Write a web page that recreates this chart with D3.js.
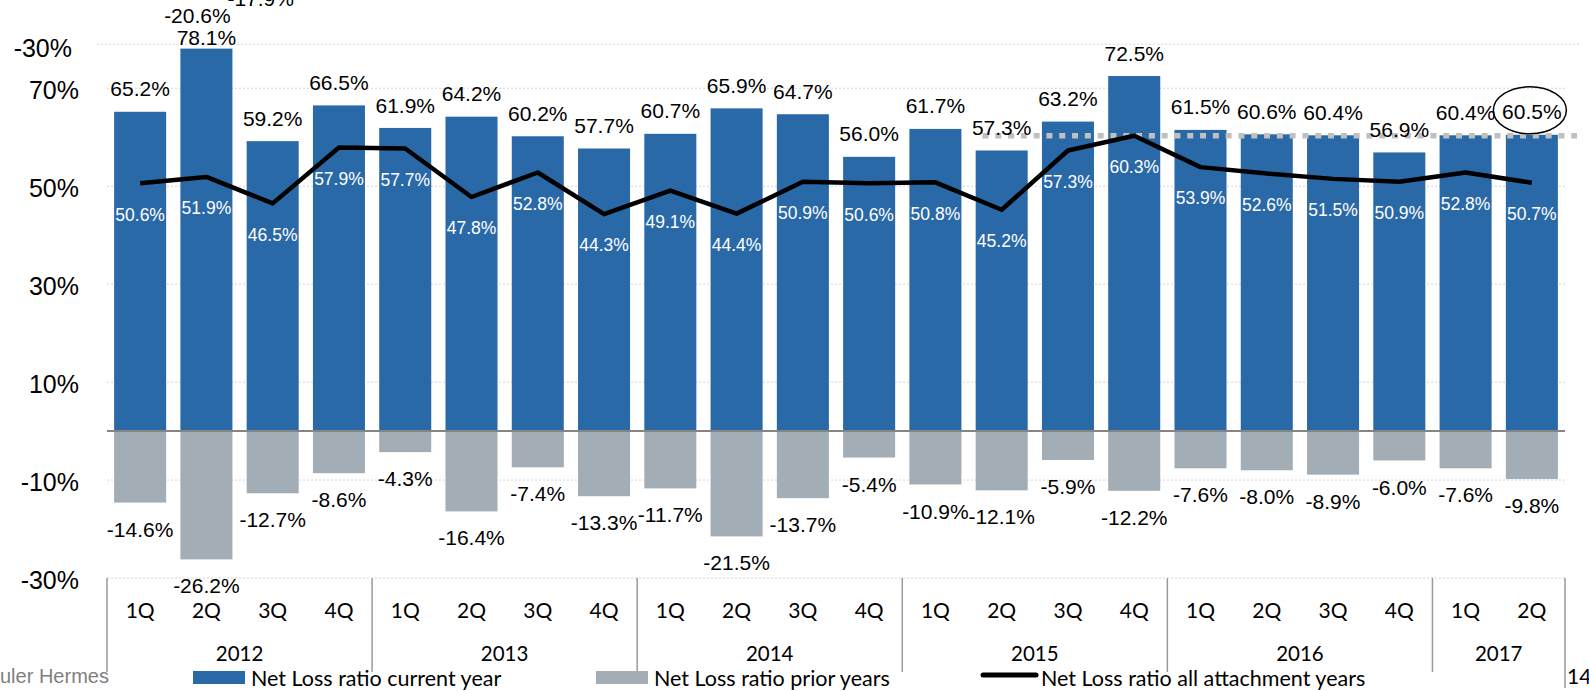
<!DOCTYPE html>
<html>
<head>
<meta charset="utf-8">
<script src="https://cdn.jsdelivr.net/npm/d3@7"></script>
<style>
  html, body { margin: 0; padding: 0; background: #fff; }
  svg { display: block; }
</style>
</head>
<body>
<div id="main_chart"></div>
<script>
const years = ["2012", "2013", "2014", "2015", "2016", "2017"];
const categories = [
  "2012 1Q", "2012 2Q", "2012 3Q", "2012 4Q",
  "2013 1Q", "2013 2Q", "2013 3Q", "2013 4Q",
  "2014 1Q", "2014 2Q", "2014 3Q", "2014 4Q",
  "2015 1Q", "2015 2Q", "2015 3Q", "2015 4Q",
  "2016 1Q", "2016 2Q", "2016 3Q", "2016 4Q",
  "2017 1Q", "2017 2Q"
];
const currentYear = [65.2, 78.1, 59.2, 66.5, 61.9, 64.2, 60.2, 57.7, 60.7, 65.9, 64.7, 56.0,
                     61.7, 57.3, 63.2, 72.5, 61.5, 60.6, 60.4, 56.9, 60.4, 60.5];
const priorYears = [-14.6, -26.2, -12.7, -8.6, -4.3, -16.4, -7.4, -13.3, -11.7, -21.5, -13.7, -5.4,
                    -10.9, -12.1, -5.9, -12.2, -7.6, -8.0, -8.9, -6.0, -7.6, -9.8];
const allYears = [50.6, 51.9, 46.5, 57.9, 57.7, 47.8, 52.8, 44.3, 49.1, 44.4, 50.9, 50.6,
                  50.8, 45.2, 57.3, 60.3, 53.9, 52.6, 51.5, 50.9, 52.8, 50.7];
const yTickValues = [79, 70, 50, 30, 10, -10, -30];
const yTickLabels = ["-30%", "70%", "50%", "30%", "10%", "-10%", "-30%"];
const strayLabels = [
  { cat: "2012 2Q", text: "-20.6%" },
  { cat: "2012 3Q", text: "-17.9%" }
];
const targetLevel = 60.3;
const targetStart = "2015 2Q";
const circledCat = "2017 2Q";

const width = 1589;
const height = 691;
const plotLeft = 107;
const plotRight = 1565;
const plotTop = 44.2;
const plotBottom = 578;

const blue = "#2a69a7";
const grey = "#a3adb6";
const arial = "'Liberation Sans', Arial, sans-serif";
const calibri = "Lato, 'Open Sans', sans-serif";

const fmt = (v) => v.toFixed(1) + "%";

// Declare the x (band) scale.
const x = d3.scaleBand()
  .domain(categories)
  .range([plotLeft, plotRight])
  .paddingInner(0.215)
  .paddingOuter(0.1075);
const half = (x.step() - x.bandwidth()) / 2;
const cx = (c) => x(c) + x.bandwidth() / 2;

// Declare the y scale.
const y = d3.scaleLinear()
  .domain([-30, 79])
  .range([plotBottom, plotTop]);

const svg = d3.create("svg").attr("width", width).attr("height", height);
svg.append("rect").attr("width", width).attr("height", height).attr("fill", "#fff");

// Grid lines
svg.append("g")
  .selectAll("line")
  .data(yTickValues)
  .join("line")
  .attr("x1", (d, i) => i === 0 ? plotLeft - 10 : plotLeft)
  .attr("x2", (d, i) => i === 0 ? plotRight + 16 : plotRight)
  .attr("y1", (d) => y(d))
  .attr("y2", (d) => y(d))
  .attr("stroke", "#d4d4d4")
  .attr("stroke-width", 1)
  .attr("stroke-dasharray", "2,2");

// Y axis labels
const yAxis = svg.append("g")
  .attr("transform", `translate(79,0)`)
  .call(d3.axisLeft(y).tickValues(yTickValues).tickSize(0).tickPadding(0)
    .tickFormat((d, i) => yTickLabels[i]));
yAxis.select(".domain").remove();
yAxis.selectAll("text")
  .attr("font-family", arial)
  .attr("font-size", 25)
  .attr("fill", "#000")
  .attr("dy", "0.38em")
  .attr("dx", (d, i) => i === 0 ? -7 : 0)
  .attr("transform", (d, i) => i === 0 ? "translate(0,3)" : "translate(0,1)");

// Bars: current year
svg.append("g")
  .selectAll("rect")
  .data(categories)
  .join("rect")
  .attr("x", (c) => x(c))
  .attr("width", x.bandwidth())
  .attr("y", (c, i) => y(currentYear[i]))
  .attr("height", (c, i) => y(0) - y(currentYear[i]))
  .attr("fill", blue);

// Bars: prior years
svg.append("g")
  .selectAll("rect")
  .data(categories)
  .join("rect")
  .attr("x", (c) => x(c))
  .attr("width", x.bandwidth())
  .attr("y", y(0))
  .attr("height", (c, i) => y(priorYears[i]) - y(0))
  .attr("fill", grey);

// Zero line
svg.append("line")
  .attr("x1", plotLeft).attr("x2", plotRight)
  .attr("y1", y(0)).attr("y2", y(0))
  .attr("stroke", "#858585")
  .attr("stroke-width", 2);

// Dotted reference level
svg.append("line")
  .attr("x1", x(targetStart) + x.bandwidth() * 0.13)
  .attr("x2", plotRight + 12)
  .attr("y1", y(targetLevel)).attr("y2", y(targetLevel))
  .attr("stroke", "#c0c0c0")
  .attr("stroke-width", 5.5)
  .attr("stroke-dasharray", "6,6.8");

// Line: all attachment years
const line = d3.line()
  .x((c) => cx(c))
  .y((c, i) => y(allYears[i]));
svg.append("path")
  .attr("fill", "none")
  .attr("stroke", "#000")
  .attr("stroke-width", 4.5)
  .attr("stroke-linejoin", "round")
  .attr("d", line(categories));

// Labels above bars
svg.append("g")
  .selectAll("text")
  .data(categories)
  .join("text")
  .attr("x", (c) => cx(c))
  .attr("y", (c, i) => Math.max(y(currentYear[i]) - 23, 37))
  .attr("dy", "0.36em")
  .attr("text-anchor", "middle")
  .attr("font-family", arial)
  .attr("font-size", 21)
  .attr("fill", "#000")
  .text((c, i) => fmt(currentYear[i]));

// Labels below grey bars
svg.append("g")
  .selectAll("text")
  .data(categories)
  .join("text")
  .attr("x", (c) => cx(c))
  .attr("y", (c, i) => y(priorYears[i]) + 26.5)
  .attr("dy", "0.36em")
  .attr("text-anchor", "middle")
  .attr("font-family", arial)
  .attr("font-size", 21)
  .attr("fill", "#000")
  .text((c, i) => fmt(priorYears[i]));

// White labels for the line
svg.append("g")
  .selectAll("text")
  .data(categories)
  .join("text")
  .attr("x", (c) => cx(c))
  .attr("y", (c, i) => y(allYears[i]) + 31)
  .attr("dy", "0.36em")
  .attr("text-anchor", "middle")
  .attr("font-family", arial)
  .attr("font-size", 17.5)
  .attr("fill", "#fff")
  .text((c, i) => fmt(allYears[i]));

// Stray labels at the top
svg.append("g")
  .selectAll("text")
  .data(strayLabels)
  .join("text")
  .attr("x", (d, i) => cx(d.cat) - (i === 0 ? 9 : 12))
  .attr("y", (d, i) => i === 0 ? 15 : -2)
  .attr("dy", "0.36em")
  .attr("text-anchor", "middle")
  .attr("font-family", arial)
  .attr("font-size", 21)
  .attr("fill", "#000")
  .text((d) => d.text);

// Circle round the last label
svg.append("ellipse")
  .attr("cx", cx(circledCat) - 2)
  .attr("cy", y(currentYear[categories.indexOf(circledCat)]) - 24.5)
  .attr("rx", 36.5)
  .attr("ry", 23.5)
  .attr("fill", "none")
  .attr("stroke", "#000")
  .attr("stroke-width", 1.5);

// Category axis: quarters, years, separators
const axisG = svg.append("g");
axisG.selectAll("text.q")
  .data(categories)
  .join("text")
  .attr("class", "q")
  .attr("x", (c) => cx(c))
  .attr("y", 610)
  .attr("dy", "0.36em")
  .attr("text-anchor", "middle")
  .attr("font-family", calibri)
  .attr("font-size", 21)
  .attr("fill", "#000")
  .text((c) => c.split(" ")[1]);

const yearCats = years.map((yr) => categories.filter((c) => c.startsWith(yr)));
axisG.selectAll("text.yr")
  .data(years)
  .join("text")
  .attr("class", "yr")
  .attr("x", (yr, i) => {
    const cs = yearCats[i];
    return (x(cs[0]) - half + x(cs[cs.length - 1]) + x.bandwidth() + half) / 2;
  })
  .attr("y", 654)
  .attr("dy", "0.34em")
  .attr("text-anchor", "middle")
  .attr("font-family", calibri)
  .attr("font-size", 20.5)
  .attr("fill", "#000")
  .text((yr) => yr);

const seps = yearCats.map((cs) => x(cs[0]) - half);
seps.push(x(categories[categories.length - 1]) + x.bandwidth() + half);
axisG.selectAll("line")
  .data(seps)
  .join("line")
  .attr("x1", (d) => d).attr("x2", (d) => d)
  .attr("y1", plotBottom)
  .attr("y2", (d, i) => i === seps.length - 1 ? 688 : 672)
  .attr("stroke", "#9a9a9a")
  .attr("stroke-width", 1.5);

// Legend
const legend = svg.append("g");
legend.append("rect").attr("x", 193).attr("y", 671).attr("width", 52).attr("height", 13).attr("fill", blue);
legend.append("text").attr("x", 251).attr("y", 678).attr("dy", "0.36em")
  .attr("font-family", calibri).attr("font-size", 21.5).attr("fill", "#000")
  .text("Net Loss ratio current year");
legend.append("rect").attr("x", 596).attr("y", 671).attr("width", 52).attr("height", 13).attr("fill", grey);
legend.append("text").attr("x", 654).attr("y", 678).attr("dy", "0.36em")
  .attr("font-family", calibri).attr("font-size", 21.5).attr("fill", "#000")
  .text("Net Loss ratio prior years");
legend.append("line").attr("x1", 983).attr("x2", 1036).attr("y1", 675).attr("y2", 675)
  .attr("stroke", "#000").attr("stroke-width", 5).attr("stroke-linecap", "round");
legend.append("text").attr("x", 1041).attr("y", 678).attr("dy", "0.36em")
  .attr("font-family", calibri).attr("font-size", 21.5).attr("fill", "#000")
  .text("Net Loss ratio all attachment years");

// Footer bits
svg.append("text").attr("x", 0).attr("y", 676).attr("dy", "0.36em")
  .attr("font-family", arial).attr("font-size", 20).attr("fill", "#7f7f7f")
  .text("uler Hermes");
svg.append("text").attr("x", 1567).attr("y", 676).attr("dy", "0.36em")
  .attr("font-family", calibri).attr("font-size", 21).attr("fill", "#000")
  .text("14");

document.getElementById("main_chart").append(svg.node());
</script>
</body>
</html>
